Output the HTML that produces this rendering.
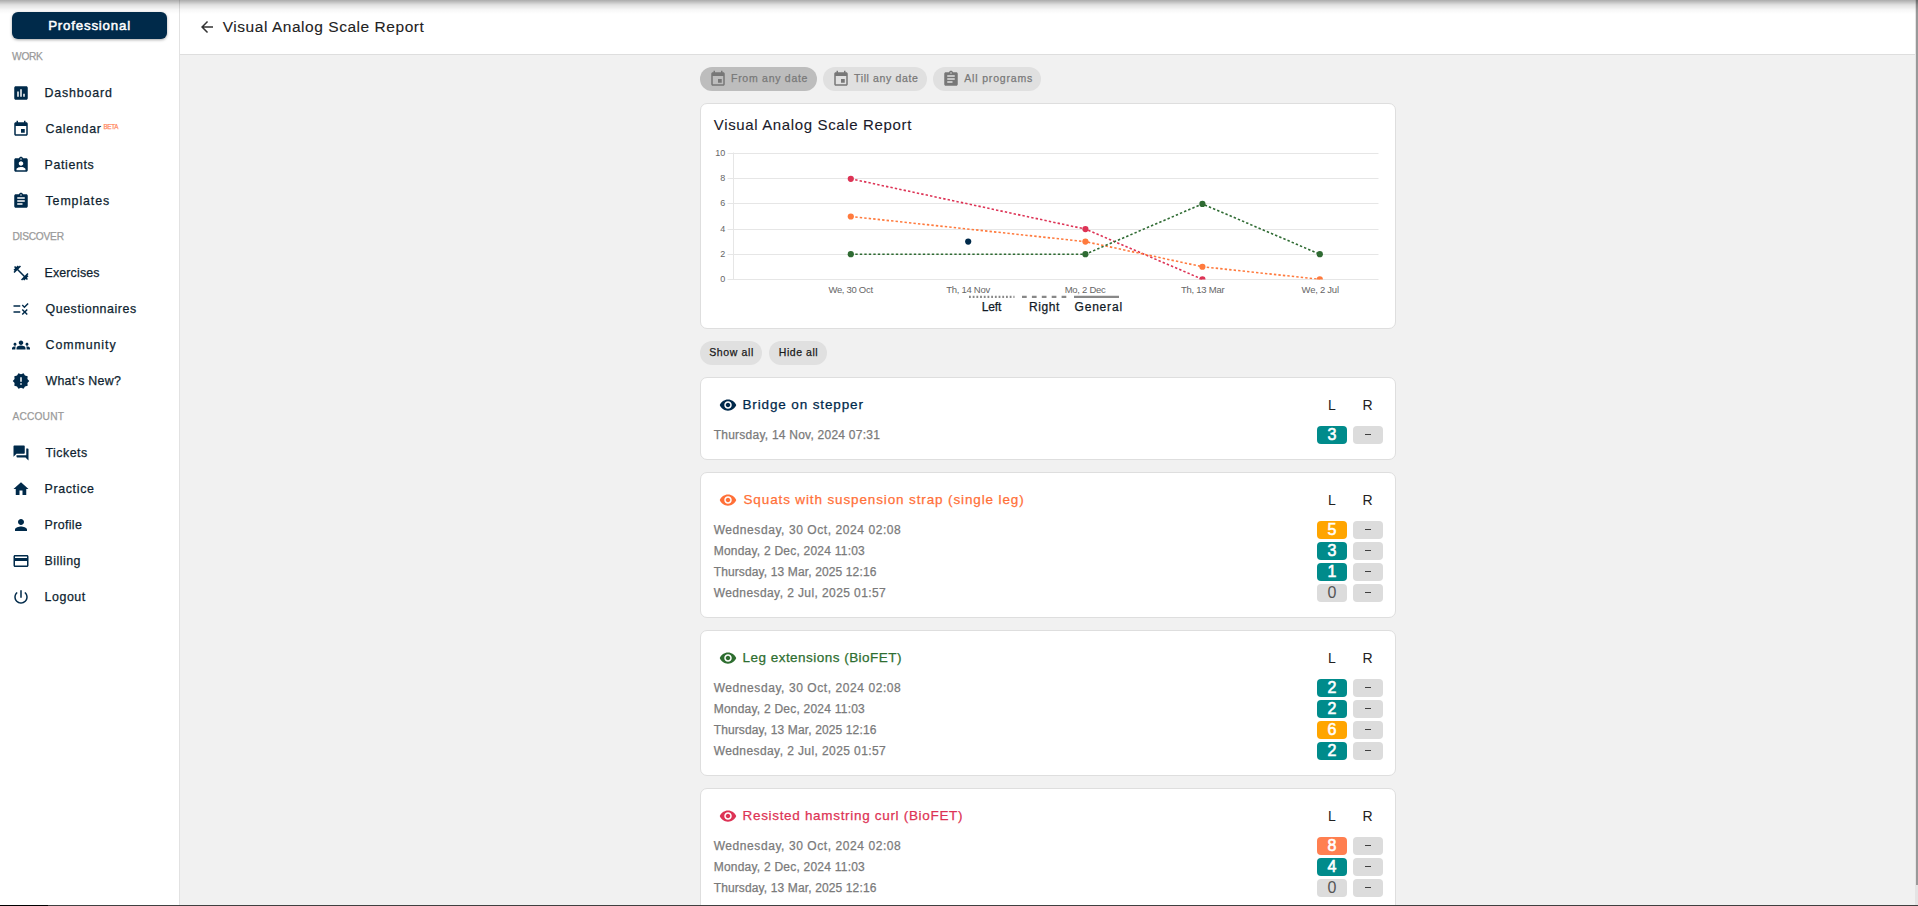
<!DOCTYPE html>
<html><head><meta charset="utf-8"><title>Visual Analog Scale Report</title>
<style>
html,body{margin:0;padding:0;}
body{width:1918px;height:906px;overflow:hidden;position:relative;background:#f1f1f1;font-family:"Liberation Sans", sans-serif;}
.t{position:absolute;white-space:nowrap;line-height:1;-webkit-text-stroke:0.25px currentColor;}
.t.ax{-webkit-text-stroke:0;}
.t.lt{-webkit-text-stroke:0.1px currentColor;}
.t.pro{-webkit-text-stroke:0.5px #fff;}
.ic{position:absolute;display:block;}
#side{position:absolute;left:0;top:0;width:179px;height:906px;background:#fff;border-right:1px solid #e2e2e2;}
#hdr{position:absolute;left:180px;top:0;width:1735px;height:54px;background:#fff;border-bottom:1px solid #dedede;}
.btn{position:absolute;left:12px;top:12px;width:155px;height:27px;border-radius:6px;background:#002a4a;box-shadow:0 1px 3px rgba(0,0,0,.35);}
.chip{position:absolute;top:67px;height:24px;border-radius:12px;background:#e0e0e0;}
.card{position:absolute;left:700px;width:694px;background:#fff;border:1px solid #dedede;border-radius:7px;}
.pill{position:absolute;top:341px;height:24px;border-radius:12px;background:#e0e0e0;}
.bd{position:absolute;width:30px;height:18px;border-radius:4px;font-size:16px;line-height:18px;text-align:center;}
.bd.w{-webkit-text-stroke:0.6px #fff;}
.dash{position:absolute;left:11.5px;top:8px;width:6.5px;height:1px;background:#404040;}
.chart{position:absolute;left:0;top:0;}
#shade{position:absolute;left:0;top:0;width:1918px;height:14px;background:linear-gradient(to bottom,rgba(0,0,0,.33),rgba(0,0,0,.12) 35%,rgba(0,0,0,.03) 70%,rgba(0,0,0,0));}
#sb{position:absolute;left:1916px;top:0;width:2px;height:885px;background:#999;}
#sbt{position:absolute;left:1915px;top:0;width:3px;height:906px;background:#e4e4e4;}
#bot{position:absolute;left:0;top:905px;width:1918px;height:1px;background:linear-gradient(to right,#000 48px,#404040 48px);}
</style></head><body>
<div id="side"></div>
<div id="hdr"></div>
<div class="btn"></div>
<div class="chip" style="left:700px;width:117px;background:#bdbdbd"></div>
<div class="chip" style="left:823px;width:104px"></div>
<div class="chip" style="left:933px;width:108px"></div>
<div class="card" style="top:103px;height:224px"></div>
<div class="pill" style="left:700px;width:62px"></div>
<div class="pill" style="left:769px;width:58px"></div>
<div class="card" style="top:377px;height:81px"></div>
<div class="card" style="top:472px;height:144px"></div>
<div class="card" style="top:630px;height:144px"></div>
<div class="card" style="top:788px;height:144px"></div>

<svg class="chart" width="1918" height="906" viewBox="0 0 1918 906"><line x1="727.5" y1="279.5" x2="1378.5" y2="279.5" stroke="#e6e6e6" stroke-width="1"/><line x1="727.5" y1="254.5" x2="1378.5" y2="254.5" stroke="#e6e6e6" stroke-width="1"/><line x1="727.5" y1="229.5" x2="1378.5" y2="229.5" stroke="#e6e6e6" stroke-width="1"/><line x1="727.5" y1="203.5" x2="1378.5" y2="203.5" stroke="#e6e6e6" stroke-width="1"/><line x1="727.5" y1="178.5" x2="1378.5" y2="178.5" stroke="#e6e6e6" stroke-width="1"/><line x1="727.5" y1="153.5" x2="1378.5" y2="153.5" stroke="#e6e6e6" stroke-width="1"/><line x1="733.5" y1="152.5" x2="733.5" y2="279.5" stroke="#e6e6e6" stroke-width="1"/><defs><clipPath id="ca"><rect x="700" y="140" width="700" height="139.5"/></clipPath></defs><g clip-path="url(#ca)"><path d="M850.8 178.82 L1085.4 229.06 L1202.4 279.30" fill="none" stroke="#dd3355" stroke-width="1.6" stroke-dasharray="2.4 2.1"/><circle cx="850.8" cy="178.82" r="3.1" fill="#dd3355"/><circle cx="1085.4" cy="229.06" r="3.1" fill="#dd3355"/><circle cx="1202.4" cy="279.30" r="3.1" fill="#dd3355"/><path d="M850.8 216.50 L1085.4 241.62 L1202.4 266.74 L1319.8 279.30" fill="none" stroke="#ff7a3d" stroke-width="1.6" stroke-dasharray="2.4 2.1"/><circle cx="850.8" cy="216.50" r="3.1" fill="#ff7a3d"/><circle cx="1085.4" cy="241.62" r="3.1" fill="#ff7a3d"/><circle cx="1202.4" cy="266.74" r="3.1" fill="#ff7a3d"/><circle cx="1319.8" cy="279.30" r="3.1" fill="#ff7a3d"/><path d="M850.8 254.18 L1085.4 254.18 L1202.4 203.94 L1319.8 254.18" fill="none" stroke="#2f6b33" stroke-width="1.6" stroke-dasharray="2.4 2.1"/><circle cx="850.8" cy="254.18" r="3.1" fill="#2f6b33"/><circle cx="1085.4" cy="254.18" r="3.1" fill="#2f6b33"/><circle cx="1202.4" cy="203.94" r="3.1" fill="#2f6b33"/><circle cx="1319.8" cy="254.18" r="3.1" fill="#2f6b33"/><circle cx="968.2" cy="241.62" r="3.1" fill="#002a4a"/></g><line x1="969" y1="296.8" x2="1014.5" y2="296.8" stroke="#888" stroke-width="2.2" stroke-dasharray="1.8 1.9"/><line x1="1022" y1="296.8" x2="1067" y2="296.8" stroke="#888" stroke-width="2.2" stroke-dasharray="4.7 5.2"/><line x1="1074" y1="296.8" x2="1119" y2="296.8" stroke="#888" stroke-width="2.2"/></svg>
<svg class="ic" style="left:12px;top:83.75px;width:18px;height:18px" viewBox="0 0 24 24"><path fill="#002a4a" d="M19 3H5c-1.1 0-2 .9-2 2v14c0 1.1.9 2 2 2h14c1.1 0 2-.9 2-2V5c0-1.1-.9-2-2-2zM9 17H7v-7h2v7zm4 0h-2V7h2v10zm4 0h-2v-4h2v4z"/></svg>
<svg class="ic" style="left:12px;top:120.05px;width:18px;height:18px" viewBox="0 0 24 24"><path fill="#002a4a" d="M17 12h-5v5h5v-5zM16 1v2H8V1H6v2H5c-1.11 0-1.99.9-1.99 2L3 19c0 1.1.89 2 2 2h14c1.1 0 2-.9 2-2V5c0-1.1-.9-2-2-2h-1V1h-2zm3 18H5V8h14v11z"/></svg>
<svg class="ic" style="left:12px;top:156.35px;width:18px;height:18px" viewBox="0 0 24 24"><path fill="#002a4a" d="M19 3h-4.18C14.4 1.84 13.3 1 12 1c-1.3 0-2.4.84-2.82 2H5c-1.1 0-2 .9-2 2v14c0 1.1.9 2 2 2h14c1.1 0 2-.9 2-2V5c0-1.1-.9-2-2-2zm-7 0c.55 0 1 .45 1 1s-.45 1-1 1-1-.45-1-1 .45-1 1-1zm0 4c1.66 0 3 1.34 3 3s-1.34 3-3 3-3-1.34-3-3 1.34-3 3-3zm6 12H6v-1.4c0-2 4-3.1 6-3.1s6 1.1 6 3.1V19z"/></svg>
<svg class="ic" style="left:12px;top:192.05px;width:18px;height:18px" viewBox="0 0 24 24"><path fill="#002a4a" d="M19 3h-4.18C14.4 1.84 13.3 1 12 1c-1.3 0-2.4.84-2.82 2H5c-1.1 0-2 .9-2 2v14c0 1.1.9 2 2 2h14c1.1 0 2-.9 2-2V5c0-1.1-.9-2-2-2zm-7 0c.55 0 1 .45 1 1s-.45 1-1 1-1-.45-1-1 .45-1 1-1zm2 14H7v-2h7v2zm3-4H7v-2h10v2zm0-4H7V7h10v2z"/></svg>
<svg class="ic" style="left:12px;top:264.2px;width:18px;height:18px" viewBox="0 0 24 24"><path fill="#002a4a" d="M20.57 14.86L22 13.43 20.57 12 17 15.57 8.43 7 12 3.43 10.57 2 9.14 3.43 7.71 2 5.57 4.14 4.14 2.71 2.71 4.14l1.43 1.43L2 7.71l1.43 1.43L2 10.57 3.43 12 7 8.43 15.57 17 12 20.57 13.43 22l1.43-1.43L16.29 22l2.14-2.14 1.43 1.43 1.43-1.43-1.43-1.43L22 16.29z"/></svg>
<svg class="ic" style="left:12px;top:300.4px;width:18px;height:18px" viewBox="0 0 24 24"><path fill="#002a4a" d="M16.54 11L13 7.46l1.41-1.41 2.12 2.12 4.24-4.24 1.41 1.41L16.54 11zM11 7H2v2h9V7zm10 6.41L19.59 12 17 14.59 14.41 12 13 13.41 15.59 16 13 18.59 14.41 20 17 17.41 19.59 20 21 18.59 18.41 16 21 13.41zM11 15H2v2h9v-2z"/></svg>
<svg class="ic" style="left:12px;top:335.7px;width:18px;height:18px" viewBox="0 0 24 24"><path fill="#002a4a" d="M12 12.75c1.63 0 3.07.39 4.24.9 1.08.48 1.76 1.56 1.76 2.73V18H6v-1.61c0-1.18.68-2.26 1.76-2.73 1.17-.52 2.61-.91 4.24-.91zM4 13c1.1 0 2-.9 2-2s-.9-2-2-2-2 .9-2 2 .9 2 2 2zm1.13 1.1c-.37-.06-.74-.1-1.13-.1-.99 0-1.930.21-2.78.58C.48 14.9 0 15.62 0 16.43V18h4.5v-1.61c0-.83.23-1.61.63-2.29zM20 13c1.1 0 2-.9 2-2s-.9-2-2-2-2 .9-2 2 .9 2 2 2zm4 3.43c0-.81-.48-1.53-1.22-1.85-.85-.37-1.79-.58-2.78-.58-.39 0-.76.04-1.13.1.4.68.63 1.46.63 2.29V18H24v-1.57zM12 6c1.66 0 3 1.34 3 3s-1.34 3-3 3-3-1.34-3-3 1.34-3 3-3z"/></svg>
<svg class="ic" style="left:12px;top:372.15px;width:18px;height:18px" viewBox="0 0 24 24"><path fill="#002a4a" d="M23 12l-2.44-2.78.34-3.68-3.61-.82-1.89-3.18L12 3 8.6 1.54 6.71 4.72l-3.61.81.34 3.68L1 12l2.440 2.78-.34 3.69 3.61.82 1.89 3.18L12 21l3.4 1.46 1.89-3.18 3.61-.82-.34-3.68L23 12zm-10 5h-2v-2h2v2zm0-4h-2V7h2v6z"/></svg>
<svg class="ic" style="left:12px;top:444px;width:18px;height:18px" viewBox="0 0 24 24"><path fill="#002a4a" d="M21 6h-2v9H6v2c0 .55.45 1 1 1h11l4 4V7c0-.55-.45-1-1-1zm-4 6V3c0-.55-.45-1-1-1H3c-.55 0-1 .45-1 1v14l4-4h10c.55 0 1-.45 1-1z"/></svg>
<svg class="ic" style="left:12px;top:479.75px;width:18px;height:18px" viewBox="0 0 24 24"><path fill="#002a4a" d="M10 20v-6h4v6h5v-8h3L12 3 2 12h3v8z"/></svg>
<svg class="ic" style="left:12px;top:515.9px;width:18px;height:18px" viewBox="0 0 24 24"><path fill="#002a4a" d="M12 12c2.21 0 4-1.79 4-4s-1.79-4-4-4-4 1.79-4 4 1.79 4 4 4zm0 2c-2.67 0-8 1.34-8 4v2h16v-2c0-2.660-5.33-4-8-4z"/></svg>
<svg class="ic" style="left:12px;top:552px;width:18px;height:18px" viewBox="0 0 24 24"><path fill="#002a4a" d="M20 4H4c-1.11 0-1.99.89-1.99 2L2 18c0 1.11.89 2 2 2h16c1.11 0 2-.89 2-2V6c0-1.11-.89-2-2-2zm0 14H4v-6h16v6zm0-10H4V6h16v2z"/></svg>
<svg class="ic" style="left:12px;top:587.65px;width:18px;height:18px" viewBox="0 0 24 24"><path fill="#002a4a" d="M13 3h-2v10h2V3zm4.83 2.17l-1.42 1.42C17.99 7.86 19 9.81 19 12c0 3.87-3.13 7-7 7s-7-3.130-7-7c0-2.19 1.01-4.14 2.58-5.42L6.17 5.17C4.23 6.82 3 9.26 3 12c0 4.97 4.03 9 9 9s9-4.03 9-9c0-2.74-1.23-5.18-3.17-6.83z"/></svg>
<svg class="ic" style="left:198px;top:18px;width:18px;height:18px" viewBox="0 0 24 24"><path fill="#333333" d="M20 11H7.83l5.59-5.59L12 4l-8 8 8 8 1.41-1.41L7.83 13H20v-2z"/></svg>
<svg class="ic" style="left:708.8px;top:69.8px;width:18px;height:18px" viewBox="0 0 24 24"><path fill="#777777" d="M17 12h-5v5h5v-5zM16 1v2H8V1H6v2H5c-1.11 0-1.99.9-1.99 2L3 19c0 1.1.89 2 2 2h14c1.1 0 2-.9 2-2V5c0-1.1-.9-2-2-2h-1V1h-2zm3 18H5V8h14v11z"/></svg>
<svg class="ic" style="left:831.8px;top:69.8px;width:18px;height:18px" viewBox="0 0 24 24"><path fill="#777777" d="M17 12h-5v5h5v-5zM16 1v2H8V1H6v2H5c-1.11 0-1.99.9-1.99 2L3 19c0 1.1.89 2 2 2h14c1.1 0 2-.9 2-2V5c0-1.1-.9-2-2-2h-1V1h-2zm3 18H5V8h14v11z"/></svg>
<svg class="ic" style="left:941.6px;top:69.8px;width:18px;height:18px" viewBox="0 0 24 24"><path fill="#777777" d="M19 3h-4.18C14.4 1.84 13.3 1 12 1c-1.3 0-2.4.84-2.82 2H5c-1.1 0-2 .9-2 2v14c0 1.1.9 2 2 2h14c1.1 0 2-.9 2-2V5c0-1.1-.9-2-2-2zm-7 0c.55 0 1 .45 1 1s-.45 1-1 1-1-.45-1-1 .45-1 1-1zm2 14H7v-2h7v2zm3-4H7v-2h10v2zm0-4H7V7h10v2z"/></svg>
<svg class="ic" style="left:718.5px;top:396px;width:18px;height:18px" viewBox="0 0 24 24"><path fill="#00294b" d="M12 4.5C7 4.5 2.73 7.61 1 12c1.73 4.39 6 7.5 11 7.5s9.27-3.11 11-7.5c-1.73-4.39-6-7.5-11-7.5zM12 17c-2.76 0-5-2.24-5-5s2.24-5 5-5 5 2.24 5 5-2.24 5-5 5zm0-8c-1.66 0-3 1.34-3 3s1.34 3 3 3 3-1.34 3-3-1.34-3-3-3z"/></svg>
<svg class="ic" style="left:718.5px;top:491px;width:18px;height:18px" viewBox="0 0 24 24"><path fill="#ff7038" d="M12 4.5C7 4.5 2.73 7.61 1 12c1.73 4.39 6 7.5 11 7.5s9.27-3.11 11-7.5c-1.73-4.39-6-7.5-11-7.5zM12 17c-2.76 0-5-2.24-5-5s2.24-5 5-5 5 2.24 5 5-2.24 5-5 5zm0-8c-1.66 0-3 1.34-3 3s1.34 3 3 3 3-1.34 3-3-1.34-3-3-3z"/></svg>
<svg class="ic" style="left:718.5px;top:649px;width:18px;height:18px" viewBox="0 0 24 24"><path fill="#2e6e30" d="M12 4.5C7 4.5 2.73 7.61 1 12c1.73 4.39 6 7.5 11 7.5s9.27-3.11 11-7.5c-1.73-4.39-6-7.5-11-7.5zM12 17c-2.76 0-5-2.24-5-5s2.24-5 5-5 5 2.24 5 5-2.24 5-5 5zm0-8c-1.66 0-3 1.34-3 3s1.34 3 3 3 3-1.34 3-3-1.34-3-3-3z"/></svg>
<svg class="ic" style="left:718.5px;top:807px;width:18px;height:18px" viewBox="0 0 24 24"><path fill="#dd3355" d="M12 4.5C7 4.5 2.73 7.61 1 12c1.73 4.39 6 7.5 11 7.5s9.27-3.11 11-7.5c-1.73-4.39-6-7.5-11-7.5zM12 17c-2.76 0-5-2.24-5-5s2.24-5 5-5 5 2.24 5 5-2.24 5-5 5zm0-8c-1.66 0-3 1.34-3 3s1.34 3 3 3 3-1.34 3-3-1.34-3-3-3z"/></svg>
<div class="bd w" style="left:1317px;top:426px;background:#008b8b;color:#ffffff">3</div>
<div class="bd" style="left:1353px;top:426px;background:#dcdcdc;color:#444"><span class="dash"></span></div>
<div class="bd w" style="left:1317px;top:521px;background:#ffa500;color:#ffffff">5</div>
<div class="bd" style="left:1353px;top:521px;background:#dcdcdc;color:#444"><span class="dash"></span></div>
<div class="bd w" style="left:1317px;top:542px;background:#008b8b;color:#ffffff">3</div>
<div class="bd" style="left:1353px;top:542px;background:#dcdcdc;color:#444"><span class="dash"></span></div>
<div class="bd w" style="left:1317px;top:563px;background:#008b8b;color:#ffffff">1</div>
<div class="bd" style="left:1353px;top:563px;background:#dcdcdc;color:#444"><span class="dash"></span></div>
<div class="bd" style="left:1317px;top:584px;background:#dcdcdc;color:#555555">0</div>
<div class="bd" style="left:1353px;top:584px;background:#dcdcdc;color:#444"><span class="dash"></span></div>
<div class="bd w" style="left:1317px;top:679px;background:#008b8b;color:#ffffff">2</div>
<div class="bd" style="left:1353px;top:679px;background:#dcdcdc;color:#444"><span class="dash"></span></div>
<div class="bd w" style="left:1317px;top:700px;background:#008b8b;color:#ffffff">2</div>
<div class="bd" style="left:1353px;top:700px;background:#dcdcdc;color:#444"><span class="dash"></span></div>
<div class="bd w" style="left:1317px;top:721px;background:#ffa500;color:#ffffff">6</div>
<div class="bd" style="left:1353px;top:721px;background:#dcdcdc;color:#444"><span class="dash"></span></div>
<div class="bd w" style="left:1317px;top:742px;background:#008b8b;color:#ffffff">2</div>
<div class="bd" style="left:1353px;top:742px;background:#dcdcdc;color:#444"><span class="dash"></span></div>
<div class="bd w" style="left:1317px;top:837px;background:#ff7f50;color:#ffffff">8</div>
<div class="bd" style="left:1353px;top:837px;background:#dcdcdc;color:#444"><span class="dash"></span></div>
<div class="bd w" style="left:1317px;top:858px;background:#008b8b;color:#ffffff">4</div>
<div class="bd" style="left:1353px;top:858px;background:#dcdcdc;color:#444"><span class="dash"></span></div>
<div class="bd" style="left:1317px;top:879px;background:#dcdcdc;color:#555555">0</div>
<div class="bd" style="left:1353px;top:879px;background:#dcdcdc;color:#444"><span class="dash"></span></div>
<div class="t pro" style="left:48.20px;top:19.00px;font-size:13.3px;font-weight:400;color:#ffffff;letter-spacing:0.798px">Professional</div>
<div class="t " style="left:12.10px;top:52.00px;font-size:10.2px;font-weight:400;color:#9a9a9a;letter-spacing:-0.299px">WORK</div>
<div class="t " style="left:44.50px;top:87.00px;font-size:12.4px;font-weight:400;color:#0f1f30;letter-spacing:0.847px">Dashboard</div>
<div class="t " style="left:45.50px;top:123.00px;font-size:12.4px;font-weight:400;color:#0f1f30;letter-spacing:0.735px">Calendar</div>
<div class="t " style="left:44.50px;top:159.00px;font-size:12.4px;font-weight:400;color:#0f1f30;letter-spacing:0.632px">Patients</div>
<div class="t " style="left:45.50px;top:195.00px;font-size:12.4px;font-weight:400;color:#0f1f30;letter-spacing:0.903px">Templates</div>
<div class="t " style="left:44.50px;top:267.00px;font-size:12.4px;font-weight:400;color:#0f1f30;letter-spacing:0.161px">Exercises</div>
<div class="t " style="left:45.50px;top:303.00px;font-size:12.4px;font-weight:400;color:#0f1f30;letter-spacing:0.566px">Questionnaires</div>
<div class="t " style="left:45.50px;top:339.00px;font-size:12.4px;font-weight:400;color:#0f1f30;letter-spacing:0.930px">Community</div>
<div class="t " style="left:45.50px;top:375.00px;font-size:12.4px;font-weight:400;color:#0f1f30;letter-spacing:0.269px">What's New?</div>
<div class="t " style="left:45.50px;top:447.00px;font-size:12.4px;font-weight:400;color:#0f1f30;letter-spacing:0.469px">Tickets</div>
<div class="t " style="left:44.50px;top:483.00px;font-size:12.4px;font-weight:400;color:#0f1f30;letter-spacing:0.662px">Practice</div>
<div class="t " style="left:44.50px;top:519.00px;font-size:12.4px;font-weight:400;color:#0f1f30;letter-spacing:0.378px">Profile</div>
<div class="t " style="left:44.50px;top:555.00px;font-size:12.4px;font-weight:400;color:#0f1f30;letter-spacing:0.472px">Billing</div>
<div class="t " style="left:44.50px;top:591.00px;font-size:12.4px;font-weight:400;color:#0f1f30;letter-spacing:0.569px">Logout</div>
<div class="t " style="left:103.50px;top:124.00px;font-size:6.3px;font-weight:400;color:#ff8a65;letter-spacing:-0.326px">BETA</div>
<div class="t " style="left:12.40px;top:232.00px;font-size:10.2px;font-weight:400;color:#9a9a9a;letter-spacing:-0.222px">DISCOVER</div>
<div class="t " style="left:12.40px;top:412.00px;font-size:10.2px;font-weight:400;color:#9a9a9a;letter-spacing:0.192px">ACCOUNT</div>
<div class="t lt" style="left:222.70px;top:19.00px;font-size:15.5px;font-weight:400;color:#222222;letter-spacing:0.544px">Visual Analog Scale Report</div>
<div class="t " style="left:731.00px;top:73.00px;font-size:10.5px;font-weight:400;color:#787878;letter-spacing:0.729px">From any date</div>
<div class="t " style="left:854.00px;top:73.00px;font-size:10.5px;font-weight:400;color:#787878;letter-spacing:0.635px">Till any date</div>
<div class="t " style="left:964.30px;top:73.00px;font-size:10.5px;font-weight:400;color:#787878;letter-spacing:0.820px">All programs</div>
<div class="t lt" style="left:713.80px;top:117.00px;font-size:15px;font-weight:400;color:#1a1a2a;letter-spacing:0.641px">Visual Analog Scale Report</div>
<div class="t " style="left:981.70px;top:301.00px;font-size:12px;font-weight:400;color:#111a26;letter-spacing:-0.127px">Left</div>
<div class="t " style="left:1029.00px;top:301.00px;font-size:12px;font-weight:400;color:#111a26;letter-spacing:0.580px">Right</div>
<div class="t " style="left:1074.50px;top:301.00px;font-size:12px;font-weight:400;color:#111a26;letter-spacing:0.812px">General</div>
<div class="t " style="left:709.20px;top:347.00px;font-size:10.5px;font-weight:400;color:#1a1a1a;letter-spacing:0.635px">Show all</div>
<div class="t " style="left:778.80px;top:347.00px;font-size:10.5px;font-weight:400;color:#1a1a1a;letter-spacing:0.545px">Hide all</div>
<div class="t ax" style="left:828.40px;top:285.00px;font-size:9.5px;font-weight:400;color:#666666;letter-spacing:-0.300px">We, 30 Oct</div>
<div class="t ax" style="left:946.30px;top:285.00px;font-size:9.5px;font-weight:400;color:#666666;letter-spacing:-0.291px">Th, 14 Nov</div>
<div class="t ax" style="left:1064.70px;top:285.00px;font-size:9.5px;font-weight:400;color:#666666;letter-spacing:-0.280px">Mo, 2 Dec</div>
<div class="t ax" style="left:1180.90px;top:285.00px;font-size:9.5px;font-weight:400;color:#666666;letter-spacing:-0.241px">Th, 13 Mar</div>
<div class="t ax" style="left:1301.60px;top:285.00px;font-size:9.5px;font-weight:400;color:#666666;letter-spacing:-0.252px">We, 2 Jul</div>
<div class="t ax" style="left:720.30px;top:275.00px;font-size:9px;font-weight:400;color:#666666;letter-spacing:0.000px">0</div>
<div class="t ax" style="left:720.30px;top:250.00px;font-size:9px;font-weight:400;color:#666666;letter-spacing:0.000px">2</div>
<div class="t ax" style="left:720.30px;top:225.00px;font-size:9px;font-weight:400;color:#666666;letter-spacing:0.000px">4</div>
<div class="t ax" style="left:720.30px;top:199.00px;font-size:9px;font-weight:400;color:#666666;letter-spacing:0.000px">6</div>
<div class="t ax" style="left:720.30px;top:174.00px;font-size:9px;font-weight:400;color:#666666;letter-spacing:0.000px">8</div>
<div class="t ax" style="left:715.29px;top:149.00px;font-size:9px;font-weight:400;color:#666666;letter-spacing:0.000px">10</div>
<div class="t " style="left:742.50px;top:398.00px;font-size:13.5px;font-weight:400;color:#00294b;letter-spacing:0.864px">Bridge on stepper</div>
<div class="t ax" style="left:1328.10px;top:398.00px;font-size:14px;font-weight:400;color:#222222;letter-spacing:0.000px">L</div>
<div class="t ax" style="left:1362.60px;top:398.00px;font-size:14px;font-weight:400;color:#222222;letter-spacing:0.000px">R</div>
<div class="t " style="left:713.70px;top:429.00px;font-size:12px;font-weight:400;color:#7a7a7a;letter-spacing:0.241px">Thursday, 14 Nov, 2024 07:31</div>
<div class="t " style="left:743.50px;top:493.00px;font-size:13.5px;font-weight:400;color:#ff7038;letter-spacing:0.870px">Squats with suspension strap (single leg)</div>
<div class="t ax" style="left:1328.10px;top:493.00px;font-size:14px;font-weight:400;color:#222222;letter-spacing:0.000px">L</div>
<div class="t ax" style="left:1362.60px;top:493.00px;font-size:14px;font-weight:400;color:#222222;letter-spacing:0.000px">R</div>
<div class="t " style="left:713.70px;top:524.00px;font-size:12px;font-weight:400;color:#7a7a7a;letter-spacing:0.574px">Wednesday, 30 Oct, 2024 02:08</div>
<div class="t " style="left:713.70px;top:545.00px;font-size:12px;font-weight:400;color:#7a7a7a;letter-spacing:0.226px">Monday, 2 Dec, 2024 11:03</div>
<div class="t " style="left:713.70px;top:566.00px;font-size:12px;font-weight:400;color:#7a7a7a;letter-spacing:0.128px">Thursday, 13 Mar, 2025 12:16</div>
<div class="t " style="left:713.70px;top:587.00px;font-size:12px;font-weight:400;color:#7a7a7a;letter-spacing:0.410px">Wednesday, 2 Jul, 2025 01:57</div>
<div class="t " style="left:742.50px;top:651.00px;font-size:13.5px;font-weight:400;color:#2e6e30;letter-spacing:0.474px">Leg extensions (BioFET)</div>
<div class="t ax" style="left:1328.10px;top:651.00px;font-size:14px;font-weight:400;color:#222222;letter-spacing:0.000px">L</div>
<div class="t ax" style="left:1362.60px;top:651.00px;font-size:14px;font-weight:400;color:#222222;letter-spacing:0.000px">R</div>
<div class="t " style="left:713.70px;top:682.00px;font-size:12px;font-weight:400;color:#7a7a7a;letter-spacing:0.574px">Wednesday, 30 Oct, 2024 02:08</div>
<div class="t " style="left:713.70px;top:703.00px;font-size:12px;font-weight:400;color:#7a7a7a;letter-spacing:0.226px">Monday, 2 Dec, 2024 11:03</div>
<div class="t " style="left:713.70px;top:724.00px;font-size:12px;font-weight:400;color:#7a7a7a;letter-spacing:0.128px">Thursday, 13 Mar, 2025 12:16</div>
<div class="t " style="left:713.70px;top:745.00px;font-size:12px;font-weight:400;color:#7a7a7a;letter-spacing:0.410px">Wednesday, 2 Jul, 2025 01:57</div>
<div class="t " style="left:742.50px;top:809.00px;font-size:13.5px;font-weight:400;color:#dd3355;letter-spacing:0.684px">Resisted hamstring curl (BioFET)</div>
<div class="t ax" style="left:1328.10px;top:809.00px;font-size:14px;font-weight:400;color:#222222;letter-spacing:0.000px">L</div>
<div class="t ax" style="left:1362.60px;top:809.00px;font-size:14px;font-weight:400;color:#222222;letter-spacing:0.000px">R</div>
<div class="t " style="left:713.70px;top:840.00px;font-size:12px;font-weight:400;color:#7a7a7a;letter-spacing:0.574px">Wednesday, 30 Oct, 2024 02:08</div>
<div class="t " style="left:713.70px;top:861.00px;font-size:12px;font-weight:400;color:#7a7a7a;letter-spacing:0.226px">Monday, 2 Dec, 2024 11:03</div>
<div class="t " style="left:713.70px;top:882.00px;font-size:12px;font-weight:400;color:#7a7a7a;letter-spacing:0.128px">Thursday, 13 Mar, 2025 12:16</div>
<div id="sbt"></div><div id="sb"></div>
<div id="bot"></div>
<div id="shade"></div>
</body></html>
